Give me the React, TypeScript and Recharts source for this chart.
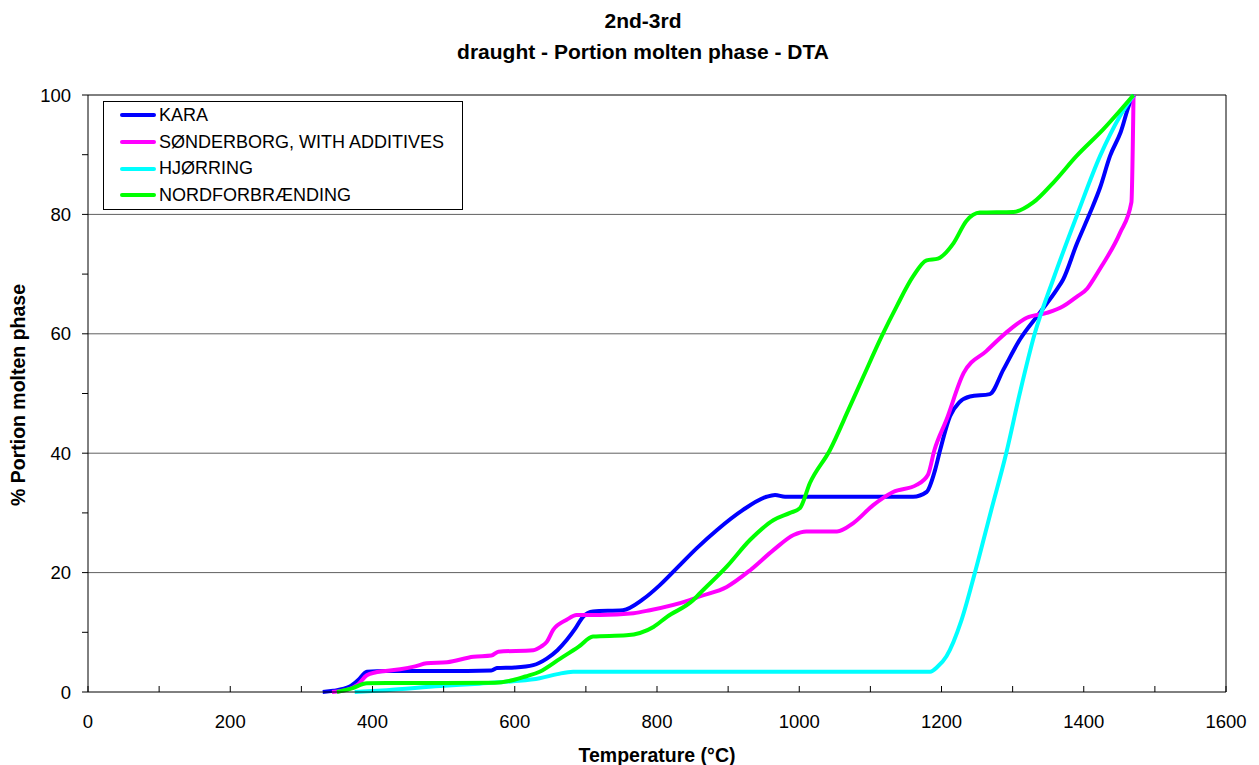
import React from "react";
import { LineChart, Line, XAxis, YAxis, CartesianGrid, Legend, ReferenceLine } from "recharts";

// (temperature in °C, % molten phase)
const karaTemp = [330, 345, 368, 380, 392, 420, 500, 567, 575, 600, 626, 645, 660, 673, 685, 696, 710, 752, 780, 804, 830, 856, 884, 921, 954, 966, 980, 1050, 1160, 1179, 1191, 1198, 1212, 1225, 1240, 1268, 1287, 1310, 1338, 1362, 1371, 1390, 1409, 1423, 1437, 1452, 1465, 1471];
const karaPct = [0, 0.2, 0.9, 2.0, 3.4, 3.5, 3.5, 3.6, 4.0, 4.1, 4.5, 5.6, 7.0, 8.7, 10.6, 12.6, 13.5, 13.7, 15.5, 17.9, 21.0, 24.1, 27.1, 30.5, 32.7, 33.0, 32.7, 32.7, 32.7, 33.5, 37.2, 40.5, 46.2, 48.5, 49.5, 49.9, 54.0, 59.0, 63.5, 67.4, 69.1, 75.0, 80.3, 84.5, 89.8, 93.8, 98.7, 100];

const sonderTemp = [343, 365, 380, 392, 405, 439, 460, 476, 505, 542, 567, 577, 626, 637, 645, 654, 673, 687, 720, 767, 790, 846, 860, 898, 931, 964, 992, 1010, 1053, 1076, 1104, 1132, 1165, 1181, 1190, 1207, 1231, 1263, 1291, 1320, 1348, 1371, 1390, 1405, 1413, 1425, 1451, 1467, 1470];
const sonderPct = [0, 0.4, 1.3, 2.8, 3.3, 3.8, 4.3, 4.8, 5.0, 5.9, 6.1, 6.75, 7.0, 7.6, 8.4, 10.4, 12.1, 12.9, 12.9, 13.2, 13.7, 15.4, 16.0, 17.6, 20.4, 23.8, 26.3, 26.9, 26.9, 28.3, 31.3, 33.5, 34.7, 36.4, 40.5, 45.6, 53.4, 57.1, 60.2, 62.7, 63.5, 64.6, 66.2, 67.6, 69.0, 71.3, 76.9, 82.0, 100];

const hjorTemp = [375, 420, 495, 550, 598, 635, 660, 682, 720, 900, 1100, 1184, 1195, 1207, 1228, 1247, 1270, 1291, 1310, 1331, 1357, 1390, 1423, 1451, 1470];
const hjorPct = [0, 0.3, 1.0, 1.4, 1.8, 2.3, 3.0, 3.4, 3.4, 3.4, 3.4, 3.4, 4.3, 6.0, 12.0, 20.0, 30.5, 40.0, 50.0, 60.0, 69.1, 79.7, 89.8, 96.5, 100];

const nordTemp = [350, 371, 392, 420, 500, 572, 598, 615, 635, 664, 690, 710, 757, 795, 814, 851, 860, 898, 931, 964, 987, 1001, 1015, 1043, 1070, 1090, 1116, 1137, 1160, 1179, 1195, 1217, 1235, 1254, 1301, 1329, 1357, 1390, 1427, 1470];
const nordPct = [0, 0.6, 1.45, 1.5, 1.5, 1.55, 2.0, 2.6, 3.4, 5.6, 7.6, 9.3, 9.5, 10.9, 12.6, 15.4, 16.5, 21.0, 25.5, 28.8, 30.0, 30.8, 35.0, 40.5, 47.5, 52.8, 59.6, 64.6, 69.6, 72.3, 72.6, 75.2, 78.9, 80.3, 80.4, 82.0, 85.3, 89.8, 94.2, 100];

const xTicks = [0, 100, 200, 300, 400, 500, 600, 700, 800, 900, 1000, 1100, 1200, 1300, 1400, 1500, 1600];
const yTicks = [0, 10, 20, 30, 40, 50, 60, 70, 80, 90, 100];
const gridValues = [20, 40, 60, 80];

const toPoints = (temps: number[], pcts: number[]) => temps.map((t, i) => ({ t, v: pcts[i] }));

const series = [
  { name: "KARA", color: "#0000ff", data: toPoints(karaTemp, karaPct) },
  { name: "SØNDERBORG, WITH ADDITIVES", color: "#ff00ff", data: toPoints(sonderTemp, sonderPct) },
  { name: "HJØRRING", color: "#00ffff", data: toPoints(hjorTemp, hjorPct) },
  { name: "NORDFORBRÆNDING", color: "#00ff00", data: toPoints(nordTemp, nordPct) },
];

const font = "'Liberation Sans', Arial, sans-serif";

// legend keeps the series order of the original (not sorted)
const LegendBox = () => (
  <div style={{ border: "1px solid #000", width: 360, height: 109, boxSizing: "border-box", background: "#fff", fontFamily: font, fontSize: 18 }}>
    {series.map((s) => (
      <div key={s.name} style={{ height: 26.7, display: "flex", alignItems: "center" }}>
        <span style={{ display: "inline-block", width: 36, height: 4, background: s.color, marginLeft: 16, borderRadius: 2 }} />
        <span style={{ marginLeft: 3, color: "#000" }}>{s.name}</span>
      </div>
    ))}
  </div>
);

export default function App() {
  return (
    <div style={{ position: "absolute", left: 0, top: 0 }}>
      <LineChart width={1259} height={765} margin={{ top: 95, right: 33, left: 0, bottom: 0 }}>
        <CartesianGrid vertical={false} horizontalValues={gridValues} stroke="#606060" />
        <XAxis
          type="number"
          dataKey="t"
          domain={[0, 1600]}
          ticks={xTicks}
          interval={0}
          allowDataOverflow
          tickFormatter={(v: number) => (v % 200 === 0 ? String(v) : "")}
          tickSize={-6}
          tickMargin={29}
          height={73}
          stroke="#000"
          tick={{ fill: "#000", fontSize: 18.5, fontFamily: font }}
        />
        <YAxis
          type="number"
          dataKey="v"
          domain={[0, 100]}
          ticks={yTicks}
          interval={0}
          tickFormatter={(v: number) => (v % 20 === 0 ? String(v) : "")}
          tickSize={6}
          tickMargin={11}
          width={88}
          stroke="#000"
          tick={{ fill: "#000", fontSize: 18.5, fontFamily: font }}
        />
        <ReferenceLine y={100} stroke="#000" />
        <ReferenceLine x={1600} stroke="#000" />
        {series.map((s) => (
          <Line
            key={s.name}
            data={s.data}
            dataKey="v"
            name={s.name}
            type="monotone"
            stroke={s.color}
            strokeWidth={4}
            dot={false}
            isAnimationActive={false}
          />
        ))}
        <Legend
          layout="vertical"
          align="center"
          verticalAlign="middle"
          content={<LegendBox />}
          wrapperStyle={{ left: 103, top: 101, width: 360, height: 109 }}
        />
        <text x={643} y={28} textAnchor="middle" fontFamily={font} fontWeight="bold" fontSize={21} fill="#000">
          2nd-3rd
        </text>
        <text x={643} y={59} textAnchor="middle" fontFamily={font} fontWeight="bold" fontSize={21} fill="#000">
          draught - Portion molten phase - DTA
        </text>
        <text x={657} y={762} textAnchor="middle" fontFamily={font} fontWeight="bold" fontSize={19.5} fill="#000">
          Temperature (°C)
        </text>
        <text transform="translate(25, 395) rotate(-90)" textAnchor="middle" fontFamily={font} fontWeight="bold" fontSize={19.5} fill="#000">
          % Portion molten phase
        </text>
      </LineChart>
    </div>
  );
}
